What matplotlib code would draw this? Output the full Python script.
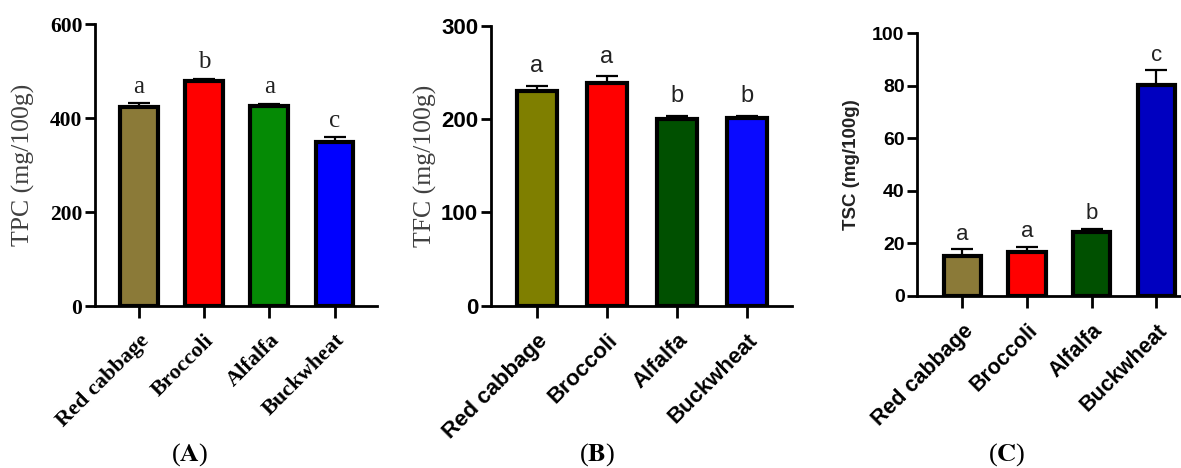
import matplotlib
matplotlib.use("Agg")
import matplotlib.pyplot as plt
from matplotlib.transforms import ScaledTranslation
import numpy as np

plt.rcParams['mathtext.fontset'] = 'stix'

categories = ["Red cabbage", "Broccoli", "Alfalfa", "Buckwheat"]

tpc_values = [423, 479, 426, 350]
tpc_err = [8, 4, 4, 9]
tpc_letters = ["a", "b", "a", "c"]

tfc_values = [230, 239, 200, 201]
tfc_err = [6, 7, 4, 3]
tfc_letters = ["a", "a", "b", "b"]

tsc_values = [15.2, 16.6, 24.2, 80.2]
tsc_err = [2.5, 2.1, 1.4, 5.8]
tsc_letters = ["a", "a", "b", "c"]

colors_a = ["#8B7A38", "#FF0000", "#058A05", "#0000FF"]
colors_b = ["#7F7F00", "#FF0000", "#005000", "#0A0AFF"]
colors_c = ["#8B7A38", "#FF0000", "#005000", "#0000C0"]

fig = plt.figure(figsize=(11.81, 4.68), dpi=100)

SERIF = "Liberation Serif"
SANS = "Liberation Sans"


def panel(rect, values, err, letters, colors, yticks, ylabel, xlim,
          tick_font, tick_size, cat_font, cat_size, ylab_font, ylab_size,
          ylab_weight, ylab_color, ylab_coords, let_font, let_size, let_off):
    ax = fig.add_axes(rect)
    x = np.arange(len(categories))
    ax.bar(x, values, width=0.58, color=colors, edgecolor="black",
           linewidth=3.0, zorder=2)
    lower = np.zeros(len(values))
    ax.errorbar(x, values, yerr=[lower, err], fmt="none", ecolor="black",
                elinewidth=1.6, capsize=8, capthick=1.6, zorder=1)
    for xi, v, e, l in zip(x, values, err, letters):
        ax.annotate(l, (xi, v + e), xytext=(0, let_off),
                    textcoords="offset points", ha="center", va="bottom",
                    fontsize=let_size, family=let_font, color="#222222")
    ax.set_xlim(*xlim)
    ax.set_ylim(yticks[0], yticks[-1])
    ax.set_yticks(yticks)
    ax.set_yticklabels([str(t) for t in yticks], fontsize=tick_size,
                       family=tick_font, fontweight="bold")
    ax.set_xticks(x)
    ax.set_xticklabels(categories, rotation=45, ha="right", va="top",
                       rotation_mode="anchor", fontsize=cat_size,
                       family=cat_font, fontweight="bold")
    off = ScaledTranslation(5 / 100, 0, fig.dpi_scale_trans)
    for lab in ax.get_xticklabels():
        lab.set_transform(lab.get_transform() + off)
    for s in ["top", "right"]:
        ax.spines[s].set_visible(False)
    for s in ["left", "bottom"]:
        ax.spines[s].set_linewidth(2.0)
    ax.tick_params(axis="y", direction="out", length=7, width=2.0, pad=2)
    ax.tick_params(axis="x", direction="out", length=8.5, width=2.0, pad=9)
    ax.set_ylabel(ylabel, fontsize=ylab_size, family=ylab_font,
                  fontweight=ylab_weight, color=ylab_color, va="center")
    ax.yaxis.set_label_coords(*ylab_coords)
    for sp in ax.spines.values():
        sp.set_capstyle("projecting")
    return ax


panel([0.0804, 0.346, 0.2388, 0.6026], tpc_values, tpc_err, tpc_letters,
      colors_a, [0, 200, 400, 600], "TPC (mg/100g)", (-0.67, 3.65),
      SERIF, 15.5, SERIF, 16, SERIF, 18.5, "normal", "#404040",
      (-0.252, 0.5), SERIF, 18, 4)

panel([0.4155, 0.3468, 0.2551, 0.5976], tfc_values, tfc_err, tfc_letters,
      colors_b, [0, 100, 200, 300], "TFC (mg/100g)", (-0.66, 3.64),
      SANS, 16, SANS, 16, SERIF, 18.5, "normal", "#404040",
      (-0.218, 0.5), SANS, 17, 6)

panel([0.7765, 0.3682, 0.2235, 0.5607], tsc_values, tsc_err, tsc_letters,
      colors_c, [0, 20, 40, 60, 80, 100], "TSC (mg/100g)", (-0.7, 3.38),
      SANS, 14, SANS, 15.5, SANS, 13.5, "bold", "#222222",
      (-0.247, 0.5), SANS, 16, 3)

for xpos, lab in [(190, "A"), (597, "B"), (1007, "C")]:
    fig.text(xpos / 1181, 0.028, r"($\mathbf{%s}$)" % lab, ha="center",
             va="center", fontsize=19, family=SERIF, color="black")

fig.savefig("out.png", dpi=100)
